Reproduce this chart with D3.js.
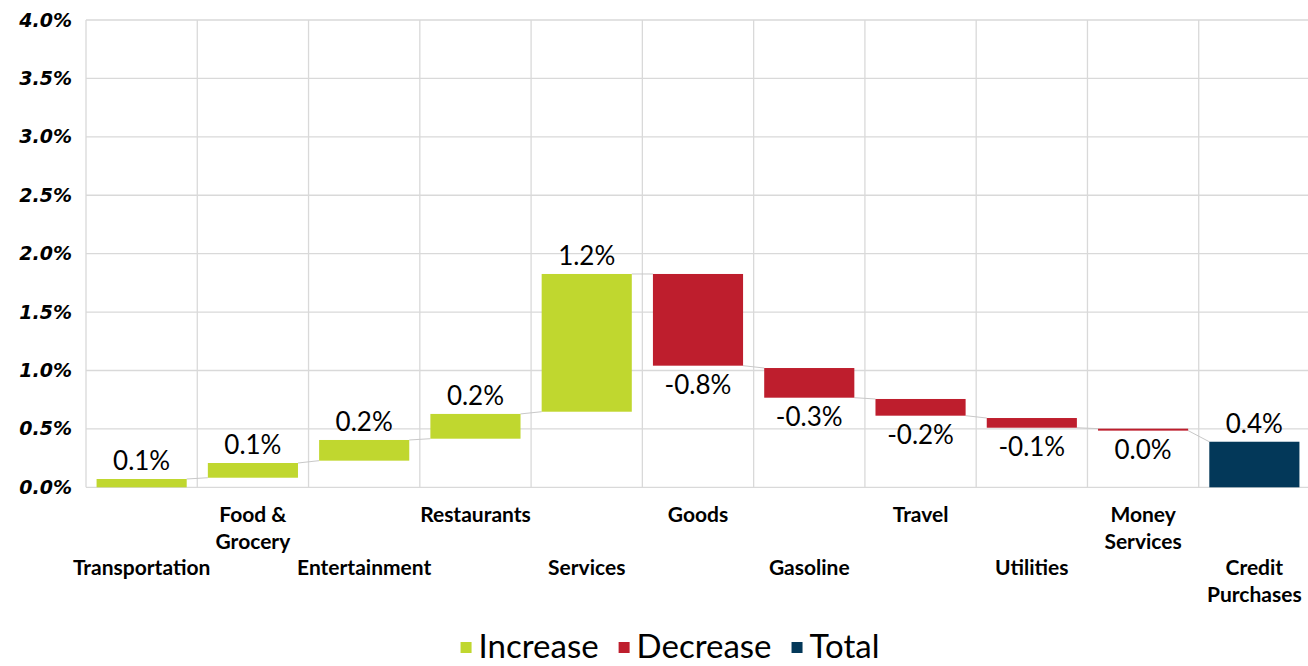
<!DOCTYPE html>
<html>
<head>
<meta charset="utf-8">
<script src="https://cdn.jsdelivr.net/npm/d3@7"></script>
<style>
  body { margin: 0; background: #fff; }
  svg { display: block; }
</style>
</head>
<body>
<script>
    //Width and height
    var w = 1308;
    var h = 666;

    //Data
    var categories = ["Transportation", "Food &\nGrocery", "Entertainment", "Restaurants", "Services",
                      "Goods", "Gasoline", "Travel", "Utilities", "Money\nServices", "Credit\nPurchases"];
    var barLow  = [0, 0.082, 0.228, 0.416, 0.647, 1.041, 0.767, 0.613, 0.510, 0.485, 0];
    var barHigh = [0.071, 0.208, 0.405, 0.628, 1.826, 1.826, 1.021, 0.756, 0.593, 0.502, 0.390];
    var changeLabels = [0.1, 0.1, 0.2, 0.2, 1.2, -0.8, -0.3, -0.2, -0.1, 0.0, 0.4];
    var barType = ["Increase", "Increase", "Increase", "Increase", "Increase",
                   "Decrease", "Decrease", "Decrease", "Decrease", "Decrease", "Total"];
    var labelRow = [1, 0, 1, 0, 1, 0, 1, 0, 1, 0, 1];
    var yTicks = [0, 0.5, 1.0, 1.5, 2.0, 2.5, 3.0, 3.5, 4.0];
    var legendItems = ["Increase", "Decrease", "Total"];

    var colors = { "Increase": "#c0d72f", "Decrease": "#be1e2d", "Total": "#033859" };
    var gridColor = "#d9d9d9";
    var bodyFont = "Lato, 'Open Sans', sans-serif";

    //Create SVG element
    var svg = d3.select("body")
                .append("svg")
                .attr("width", w)
                .attr("height", h);

    //scales
    var x = d3.scaleBand()
              .domain(categories)
              .range([86, 1310]);
    var y = d3.scaleLinear()
              .domain([0, 4])
              .range([487.3, 20]);
    var barW = x.bandwidth() * 0.81;

    //horizontal grid
    svg.selectAll("line.hgrid")
       .data(yTicks)
       .enter()
       .append("line")
       .attr("class", "hgrid")
       .attr("x1", x.range()[0])
       .attr("x2", x.range()[1])
       .attr("y1", function(d) { return y(d); })
       .attr("y2", function(d) { return y(d); })
       .attr("stroke", gridColor)
       .attr("stroke-width", 1.3);

    //vertical grid at band edges
    var edges = categories.map(function(c) { return x(c); }).concat([x.range()[1]]);
    svg.selectAll("line.vgrid")
       .data(edges)
       .enter()
       .append("line")
       .attr("class", "vgrid")
       .attr("x1", function(d) { return d; })
       .attr("x2", function(d) { return d; })
       .attr("y1", y(4))
       .attr("y2", y(0))
       .attr("stroke", gridColor)
       .attr("stroke-width", 1.3);

    //y axis labels
    var yAxis = d3.axisLeft(y)
                  .tickValues(yTicks)
                  .tickSize(0)
                  .tickPadding(14)
                  .tickFormat(function(d) { return d3.format(".1f")(d) + "%"; });
    var gy = svg.append("g")
                .attr("transform", "translate(86,0)")
                .call(yAxis);
    gy.select(".domain").remove();
    gy.selectAll("text")
      .attr("font-family", "'DejaVu Sans', Verdana, sans-serif")
      .attr("font-size", "19px")
      .attr("font-weight", "bold")
      .attr("font-style", "italic")
      .attr("fill", "#000");

    //connectors: end of one bar to start of the next
    function endVal(i) { return barType[i] === "Decrease" ? barLow[i] : barHigh[i]; }
    function startVal(i) {
        if (barType[i] === "Decrease" || barType[i] === "Total") return barHigh[i];
        return barLow[i];
    }
    var links = d3.range(categories.length - 1);
    svg.selectAll("line.link")
       .data(links)
       .enter()
       .append("line")
       .attr("class", "link")
       .attr("x1", function(i) { return x(categories[i]) + (x.bandwidth() + barW) / 2; })
       .attr("x2", function(i) { return x(categories[i + 1]) + (x.bandwidth() - barW) / 2; })
       .attr("y1", function(i) { return y(endVal(i)); })
       .attr("y2", function(i) { return y(startVal(i + 1)); })
       .attr("stroke", "#c8c8c8")
       .attr("stroke-width", 1);

    //bars
    var idx = d3.range(categories.length);
    svg.selectAll("rect.bar")
       .data(idx)
       .enter()
       .append("rect")
       .attr("class", "bar")
       .attr("x", function(i) { return x(categories[i]) + (x.bandwidth() - barW) / 2; })
       .attr("y", function(i) { return y(barHigh[i]); })
       .attr("width", barW)
       .attr("height", function(i) { return Math.max(1.5, y(barLow[i]) - y(barHigh[i])); })
       .attr("fill", function(i) { return colors[barType[i]]; });

    //data labels
    svg.selectAll("text.val")
       .data(idx)
       .enter()
       .append("text")
       .attr("class", "val")
       .attr("x", function(i) { return x(categories[i]) + x.bandwidth() / 2; })
       .attr("y", function(i) {
            return barType[i] === "Decrease" ? y(barLow[i]) + 28 : y(barHigh[i]) - 9;
       })
       .attr("text-anchor", "middle")
       .attr("font-family", bodyFont)
       .attr("font-size", "26px")
       .attr("fill", "#000")
       .text(function(i) { return d3.format(".1f")(changeLabels[i]).replace("−", "-").replace("-0.0", "0.0") + "%"; });

    //category labels, staggered in two rows
    var cat = svg.selectAll("text.cat")
       .data(idx)
       .enter()
       .append("text")
       .attr("class", "cat")
       .attr("text-anchor", "middle")
       .attr("font-family", bodyFont)
       .attr("font-size", "21px")
       .attr("font-weight", "bold")
       .attr("fill", "#000");
    cat.each(function(i) {
        var lines = categories[i].split("\n");
        var t = d3.select(this);
        lines.forEach(function(s, k) {
            t.append("tspan")
             .attr("x", x(categories[i]) + x.bandwidth() / 2)
             .attr("y", 522 + labelRow[i] * 53 + k * 27)
             .text(s);
        });
    });

    //legend
    var legend = svg.append("g");
    var lx = 0;
    legendItems.forEach(function(name) {
        legend.append("rect")
              .attr("x", lx)
              .attr("y", -16)
              .attr("width", 11)
              .attr("height", 11)
              .attr("fill", colors[name]);
        var t = legend.append("text")
              .attr("x", lx + 18)
              .attr("y", 0)
              .attr("font-family", bodyFont)
              .attr("font-size", "33px")
              .attr("fill", "#000")
              .text(name);
        lx += 18 + t.node().getComputedTextLength() + 20;
    });
    lx -= 20;
    legend.attr("transform", "translate(" + (670 - lx / 2) + ",658)");
</script>
</body>
</html>
